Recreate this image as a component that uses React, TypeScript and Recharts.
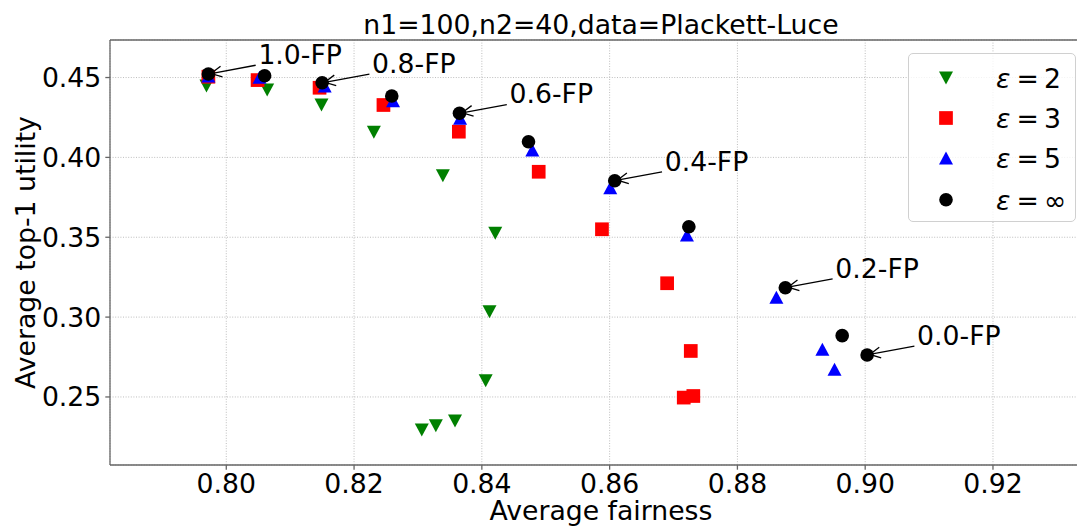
import React from "react";
import { CartesianGrid, Legend, ReferenceLine, Scatter, ScatterChart, XAxis, YAxis } from "recharts";

const fpLevels = ["1.0", "0.9", "0.8", "0.7", "0.6", "0.5", "0.4", "0.3", "0.2", "0.1", "0.0"];
const annotatedLevels = ["1.0", "0.8", "0.6", "0.4", "0.2", "0.0"];

const fairEps2 = [0.7969, 0.8064, 0.8149, 0.8231, 0.8339, 0.8421, 0.8412, 0.8406, 0.8358, 0.8328, 0.8306];
const utilEps2 = [0.4447, 0.4422, 0.4328, 0.4157, 0.3885, 0.3525, 0.3034, 0.2602, 0.235, 0.232, 0.2293];

const fairEps3 = [0.7972, 0.8049, 0.8146, 0.8246, 0.8364, 0.8489, 0.8588, 0.869, 0.8727, 0.8716, 0.8731];
const utilEps3 = [0.4505, 0.4484, 0.4436, 0.4328, 0.4161, 0.391, 0.355, 0.3212, 0.2788, 0.2496, 0.2506];

const fairEps5 = [0.7972, 0.8052, 0.8154, 0.8261, 0.8366, 0.8479, 0.8601, 0.8721, 0.8861, 0.8933, 0.8952];
const utilEps5 = [0.451, 0.4501, 0.4447, 0.4355, 0.4245, 0.4046, 0.381, 0.3514, 0.3124, 0.2799, 0.2673];

const fairEpsInf = [0.7972, 0.806, 0.815, 0.8259, 0.8365, 0.8473, 0.8608, 0.8724, 0.8875, 0.8964, 0.9003];
const utilEpsInf = [0.4522, 0.4511, 0.4467, 0.4384, 0.4276, 0.4098, 0.3854, 0.3566, 0.3184, 0.2884, 0.2763];

const xTicks = [0.8, 0.82, 0.84, 0.86, 0.88, 0.9, 0.92];
const yTicks = [0.25, 0.3, 0.35, 0.4, 0.45];
const X_DOMAIN: [number, number] = [0.7818, 0.9355];
const Y_DOMAIN: [number, number] = [0.2074, 0.4735];

const TITLE = "n1=100,n2=40,data=Plackett-Luce";
const FONT = 26.7;
const SPINE = "#666";

type Kind = "down" | "square" | "up" | "circle";

const toPoints = (xs: number[], ys: number[]) =>
  xs.map((x, i) => ({ x, y: ys[i], fp: fpLevels[i] }));

const series: { name: string; eps: string; color: string; kind: Kind; data: { x: number; y: number; fp: string }[] }[] = [
  { name: "eps2", eps: "2", color: "#008000", kind: "down", data: toPoints(fairEps2, utilEps2) },
  { name: "eps3", eps: "3", color: "#ff0000", kind: "square", data: toPoints(fairEps3, utilEps3) },
  { name: "eps5", eps: "5", color: "#0000ff", kind: "up", data: toPoints(fairEps5, utilEps5) },
  { name: "epsInf", eps: "\u221e", color: "#000000", kind: "circle", data: toPoints(fairEpsInf, utilEpsInf) },
];

const annotations = series[3].data.filter((d) => annotatedLevels.includes(d.fp));

function Marker({ kind, color, cx, cy }: { kind: Kind; color: string; cx: number; cy: number }) {
  const w = 7;
  const h = 6.5;
  if (kind === "circle") return <circle cx={cx} cy={cy} r={6.8} fill={color} />;
  if (kind === "square") return <rect x={cx - 6.85} y={cy - 6.85} width={13.7} height={13.7} fill={color} />;
  if (kind === "up")
    return <polygon points={`${cx},${cy - h} ${cx - w},${cy + h} ${cx + w},${cy + h}`} fill={color} />;
  return <polygon points={`${cx - w},${cy - h} ${cx + w},${cy - h} ${cx},${cy + h}`} fill={color} />;
}

function ArrowNote(props: any) {
  const { cx, cy, payload } = props;
  // text sits 50px right, 10px above the point; arrow runs from text box toward the point
  const dx = 91.8;
  const dy = -17;
  const len = Math.hypot(dx, dy);
  const ux = dx / len;
  const uy = dy / len;
  const t = 47.3 / dx;
  const tailX = cx + dx * t;
  const tailY = cy + dy * t;
  const tipX = cx + 2.67 * ux;
  const tipY = cy + 2.67 * uy;
  const nx = -uy;
  const ny = ux;
  const b1 = `${tipX + 10.67 * ux + 5.33 * nx},${tipY + 10.67 * uy + 5.33 * ny}`;
  const b2 = `${tipX + 10.67 * ux - 5.33 * nx},${tipY + 10.67 * uy - 5.33 * ny}`;
  return (
    <g>
      <line x1={tailX} y1={tailY} x2={tipX} y2={tipY} stroke="#000" strokeWidth={1.3} />
      <polyline points={`${b1} ${tipX},${tipY} ${b2}`} fill="none" stroke="#000" strokeWidth={1.3} />
      <text x={cx + 50} y={cy - 10} fontSize={FONT} fill="#000">
        {payload.fp}-FP
      </text>
    </g>
  );
}

function LegendBox() {
  const rows = [25, 65, 105, 146.7];
  return (
    <div
      style={{
        width: 168,
        height: 169,
        boxSizing: "border-box",
        border: "1px solid #d0d0d0",
        borderRadius: 5,
        background: "rgba(255,255,255,0.8)",
      }}
    >
      <svg width={166} height={167} style={{ display: "block" }}>
        {series.map((s, i) => (
          <g key={s.name}>
            <Marker kind={s.kind} color={s.color} cx={37} cy={rows[i] - 1} />
            <text x={87} y={rows[i] + 9} fontSize={FONT} fontStyle="italic" fill="#000">
              ε
            </text>
            <text x={107.5} y={rows[i] + 9} fontSize={FONT} fill="#000">
              =
            </text>
            <text x={135} y={rows[i] + 9} fontSize={FONT} fill="#000">
              {s.eps}
            </text>
          </g>
        ))}
      </svg>
    </div>
  );
}

const XTitle = () => (
  <text x={601} y={520} textAnchor="middle" fontSize={FONT} fill="#000">
    Average fairness
  </text>
);

const YTitle = () => (
  <text x={34.5} y={252.5} transform="rotate(-90 34.5 252.5)" textAnchor="middle" fontSize={FONT} fill="#000">
    Average top-1 utility
  </text>
);

export default function App() {
  return (
    <div
      style={{
        position: "absolute",
        left: 0,
        top: 0,
        width: 1077,
        height: 527,
        overflow: "hidden",
        background: "#fff",
        fontFamily: "'DejaVu Sans', sans-serif",
      }}
    >
      <ScatterChart width={1100} height={527} margin={{ top: 40, right: 8, bottom: 0, left: 0 }}>
        <CartesianGrid stroke="#bdbdbd" strokeDasharray="1 1.6" />
        <XAxis
          type="number"
          dataKey="x"
          domain={X_DOMAIN}
          ticks={xTicks}
          interval={0}
          allowDataOverflow
          height={62}
          tickSize={4.7}
          tickMargin={4}
          tickFormatter={(v: number) => v.toFixed(2)}
          tick={{ fontSize: FONT, fill: "#000" }}
          tickLine={{ stroke: SPINE, strokeWidth: 1.3 }}
          axisLine={{ stroke: SPINE, strokeWidth: 1.3 }}
          label={<XTitle />}
        />
        <YAxis
          type="number"
          dataKey="y"
          domain={Y_DOMAIN}
          ticks={yTicks}
          interval={0}
          allowDataOverflow
          width={110}
          tickSize={4.7}
          tickMargin={4}
          tickFormatter={(v: number) => v.toFixed(2)}
          tick={{ fontSize: FONT, fill: "#000" }}
          tickLine={{ stroke: SPINE, strokeWidth: 1.3 }}
          axisLine={{ stroke: SPINE, strokeWidth: 1.3 }}
          label={<YTitle />}
        />
        <ReferenceLine
          y={Y_DOMAIN[1]}
          stroke={SPINE}
          strokeWidth={1.3}
          label={{ value: TITLE, position: "top", offset: 6, fontSize: FONT, fill: "#000" }}
        />
        {series.map((s) => (
          <Scatter
            key={s.name}
            name={s.name}
            data={s.data}
            isAnimationActive={false}
            shape={(p: any) => <Marker kind={s.kind} color={s.color} cx={p.cx} cy={p.cy} />}
          />
        ))}
        <Scatter name="notes" data={annotations} isAnimationActive={false} shape={(p: any) => <ArrowNote {...p} />} />
        <Legend
          layout="vertical"
          align="center"
          verticalAlign="middle"
          wrapperStyle={{ left: 908, top: 53, width: 168, height: 169 }}
          content={() => <LegendBox />}
        />
      </ScatterChart>
    </div>
  );
}
